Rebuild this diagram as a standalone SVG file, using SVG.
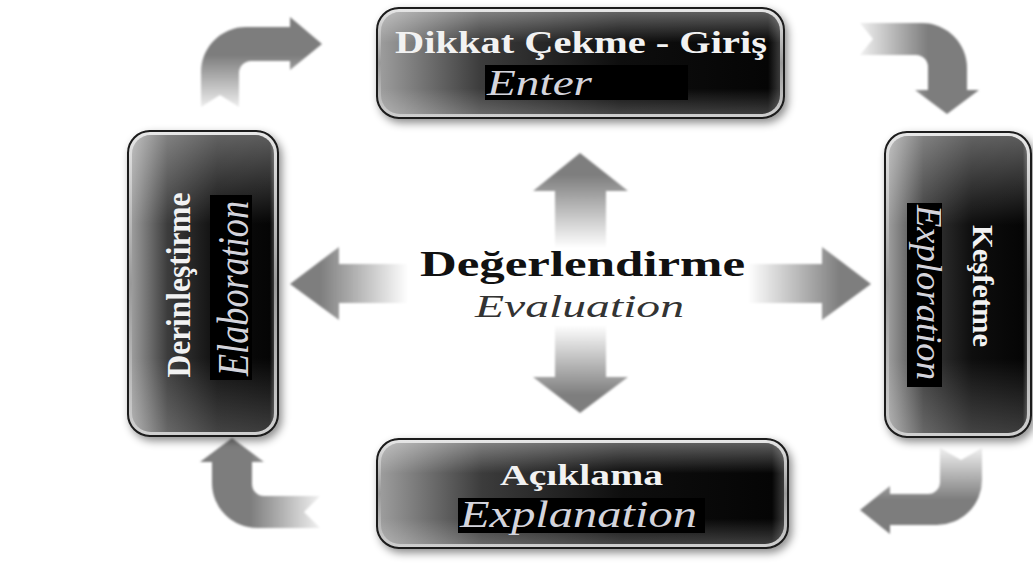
<svg xmlns="http://www.w3.org/2000/svg" width="1033" height="563" viewBox="0 0 1033 563">
<style>
.title{font-family:"Liberation Serif","DejaVu Serif",serif;font-weight:bold;fill:#f2f2f2}
.sub{font-family:"Liberation Serif","DejaVu Serif",serif;font-style:italic;fill:#d4d4dc}
.lbl{fill:#000}
.rim{stroke:#1a1a1a;stroke-width:2}
</style>
<defs>
<filter id="sh" x="-20%" y="-20%" width="140%" height="140%">
<feDropShadow dx="3" dy="4" stdDeviation="4" flood-color="#000" flood-opacity="0.45"/>
</filter>
<filter id="soft" x="-10%" y="-10%" width="120%" height="120%">
<feGaussianBlur stdDeviation="0.8"/>
</filter>
<linearGradient id="rimG" x1="0" y1="0" x2="0" y2="1">
<stop offset="0" stop-color="#e8e8e8"/>
<stop offset="0.5" stop-color="#9a9a9a"/>
<stop offset="1" stop-color="#d0d0d0"/>
</linearGradient>
<linearGradient id="bodyH" x1="0" y1="0" x2="1" y2="0">
<stop offset="0" stop-color="#9c9c9c"/>
<stop offset="0.25" stop-color="#3c3c3c"/>
<stop offset="0.6" stop-color="#0e0e0e"/>
<stop offset="0.97" stop-color="#050505"/>
<stop offset="1" stop-color="#3a3a3a"/>
</linearGradient>
<linearGradient id="glossV" x1="0" y1="0" x2="0" y2="1">
<stop offset="0" stop-color="#fff" stop-opacity="0.35"/>
<stop offset="0.3" stop-color="#fff" stop-opacity="0"/>
<stop offset="0.75" stop-color="#fff" stop-opacity="0"/>
<stop offset="1" stop-color="#fff" stop-opacity="0.22"/>
</linearGradient>
<linearGradient id="aUp" gradientUnits="userSpaceOnUse" x1="0" y1="175" x2="0" y2="248">
<stop offset="0" stop-color="#7e7e7e"/><stop offset="1" stop-color="#fff"/>
</linearGradient>
<linearGradient id="aDown" gradientUnits="userSpaceOnUse" x1="0" y1="325" x2="0" y2="395">
<stop offset="0" stop-color="#fff"/><stop offset="1" stop-color="#7e7e7e"/>
</linearGradient>
<linearGradient id="aLeft" gradientUnits="userSpaceOnUse" x1="408" y1="0" x2="320" y2="0">
<stop offset="0" stop-color="#fff"/><stop offset="1" stop-color="#7e7e7e"/>
</linearGradient>
<linearGradient id="aRight" gradientUnits="userSpaceOnUse" x1="748" y1="0" x2="840" y2="0">
<stop offset="0" stop-color="#fff"/><stop offset="1" stop-color="#7e7e7e"/>
</linearGradient>
<linearGradient id="cTL" gradientUnits="userSpaceOnUse" x1="0" y1="55" x2="0" y2="110">
<stop offset="0" stop-color="#7d7d7d"/><stop offset="1" stop-color="#f4f4f4"/>
</linearGradient>
<linearGradient id="cTR" gradientUnits="userSpaceOnUse" x1="858" y1="0" x2="928" y2="0">
<stop offset="0" stop-color="#f4f4f4"/><stop offset="1" stop-color="#7d7d7d"/>
</linearGradient>
<linearGradient id="cBL" gradientUnits="userSpaceOnUse" x1="250" y1="0" x2="322" y2="0">
<stop offset="0" stop-color="#7d7d7d"/><stop offset="1" stop-color="#f4f4f4"/>
</linearGradient>
<linearGradient id="cBR" gradientUnits="userSpaceOnUse" x1="0" y1="446" x2="0" y2="500">
<stop offset="0" stop-color="#f4f4f4"/><stop offset="1" stop-color="#7d7d7d"/>
</linearGradient>
</defs>
<rect width="1033" height="563" fill="#fff"/>

<g id="connectors" filter="url(#soft)">
<path id="arrow-up" d="M580,153 L628,191 L606,191 L606,248 L555,248 L555,191 L533,191 Z" fill="url(#aUp)"/>
<path id="arrow-down" d="M555,325 L606,325 L606,377 L628,377 L580,413 L533,377 L555,377 Z" fill="url(#aDown)"/>
<path id="arrow-left" d="M290,284 L339,247 L339,264 L408,264 L408,303 L339,303 L339,320 Z" fill="url(#aLeft)"/>
<path id="arrow-right" d="M748,264 L822,264 L822,247 L871,284 L822,320 L822,303 L748,303 Z" fill="url(#aRight)"/>
<path id="arrow-tl" d="M201,107 L201,72 A45,45 0 0 1 246,27 L290,27 L290,17 L322,44 L290,70 L290,61 L251,61 A12,12 0 0 0 239,73 L239,107 L220,95 Z" fill="url(#cTL)"/>
<path id="arrow-tr" d="M860,23 L922,23 A45,45 0 0 1 967,68 L967,90 L979,90 L947,114 L915,90 L928,90 L928,67 A12,12 0 0 0 916,55 L860,55 L873,39 Z" fill="url(#cTR)"/>
<path id="arrow-bl" d="M232,438 L264,462 L252,462 L252,484 A12,12 0 0 0 264,496 L320,496 L304,512 L320,528 L257,528 A45,45 0 0 1 212,483 L212,462 L200,462 Z" fill="url(#cBL)"/>
<path id="arrow-br" d="M940,448 L961,460 L982,448 L982,480 A45,45 0 0 1 937,525 L890,525 L890,534 L860,510 L890,486 L890,494 L928,494 A12,12 0 0 0 940,482 Z" fill="url(#cBR)"/>
</g>

<g id="node-enter">
<rect class="rim" x="377" y="8" width="407" height="110" rx="22" fill="url(#rimG)" filter="url(#sh)"/>
<rect x="381" y="12" width="399" height="102" rx="19" fill="url(#bodyH)"/>
<rect x="381" y="12" width="399" height="102" rx="19" fill="url(#glossV)"/>
<text class="title" x="395" y="53" font-size="32" textLength="372" lengthAdjust="spacingAndGlyphs">Dikkat Çekme - Giriş</text>
<rect class="lbl" x="485" y="65" width="203" height="35"/>
<text class="sub" x="487" y="95" font-size="36" textLength="105" lengthAdjust="spacingAndGlyphs">Enter</text>
</g>

<g id="node-exploration">
<rect class="rim" x="885" y="132" width="146" height="305" rx="22" fill="url(#rimG)" filter="url(#sh)"/>
<rect x="889" y="136" width="138" height="297" rx="19" fill="url(#bodyH)"/>
<rect x="889" y="136" width="138" height="297" rx="19" fill="url(#glossV)"/>
<rect class="lbl" x="907" y="203" width="35" height="184"/>
<text class="title" transform="translate(973,286) rotate(90)" text-anchor="middle" font-size="30" textLength="122" lengthAdjust="spacingAndGlyphs">Keşfetme</text>
<text class="sub" transform="translate(917,205) rotate(90)" font-size="35" textLength="175" lengthAdjust="spacingAndGlyphs">Exploration</text>
</g>

<g id="node-explanation">
<rect class="rim" x="377" y="439" width="411" height="109" rx="22" fill="url(#rimG)" filter="url(#sh)"/>
<rect x="381" y="443" width="403" height="101" rx="19" fill="url(#bodyH)"/>
<rect x="381" y="443" width="403" height="101" rx="19" fill="url(#glossV)"/>
<text class="title" x="500" y="485" font-size="30" textLength="163" lengthAdjust="spacingAndGlyphs">Açıklama</text>
<rect class="lbl" x="458" y="498" width="247" height="35"/>
<text class="sub" x="460" y="527" font-size="37" textLength="237" lengthAdjust="spacingAndGlyphs">Explanation</text>
</g>

<g id="node-elaboration">
<rect class="rim" x="128" y="131" width="150" height="305" rx="22" fill="url(#rimG)" filter="url(#sh)"/>
<rect x="132" y="135" width="142" height="297" rx="19" fill="url(#bodyH)"/>
<rect x="132" y="135" width="142" height="297" rx="19" fill="url(#glossV)"/>
<text class="title" transform="translate(190,285) rotate(-90)" text-anchor="middle" font-size="34" textLength="185" lengthAdjust="spacingAndGlyphs">Derinleştirme</text>
<rect class="lbl" x="210" y="195" width="42" height="185"/>
<text class="sub" transform="translate(248,376) rotate(-90)" font-size="45" textLength="175" lengthAdjust="spacingAndGlyphs">Elaboration</text>
</g>

<g id="node-evaluation">
<text x="420" y="276" font-family="Liberation Serif, DejaVu Serif, serif" font-weight="bold" font-size="36" fill="#111" textLength="325" lengthAdjust="spacingAndGlyphs">Değerlendirme</text>
<text x="475" y="317" font-family="Liberation Serif, DejaVu Serif, serif" font-style="italic" font-size="31" fill="#333" textLength="209" lengthAdjust="spacingAndGlyphs">Evaluation</text>
</g>
</svg>
